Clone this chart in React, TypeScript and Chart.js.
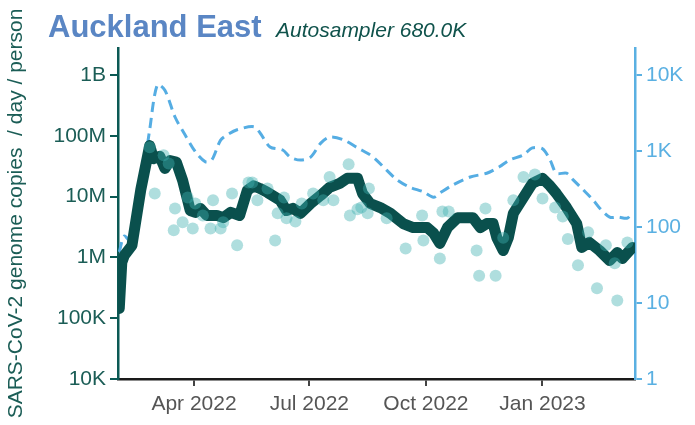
import React, { useEffect, useRef } from 'react';
import { Chart, registerables } from 'chart.js';

Chart.register(...registerables);

// ---- data (days counted from START_DATE) ----
const START_DATE = '2022-02-01';

const trendDays = [0, 2, 4, 10, 17, 24, 27, 32, 36, 40, 45, 50, 54, 56, 60, 64, 69, 77, 82, 88, 95, 101, 106, 111, 117, 127, 132, 137, 143, 151, 159, 166, 174, 180, 188, 192, 198, 206, 214, 224, 232, 243, 248, 253, 259, 267, 274, 279, 285, 290, 295, 298, 303, 307, 311, 319, 326, 334, 340, 345, 353, 361, 365, 371, 379, 387, 393, 397, 405];
const trendCopies = [1.45e5, 8.3e5, 1.08e6, 1.57e6, 1.3e7, 6.9e7, 4.2e7, 4.6e7, 2.9e7, 3.9e7, 3.7e7, 1.85e7, 8.7e6, 5.9e6, 5.5e6, 6.4e6, 4.9e6, 4.9e6, 4.5e6, 5.5e6, 4.9e6, 1.26e7, 1.5e7, 1.36e7, 1.17e7, 8.7e6, 5.9e6, 6.4e6, 5.3e6, 7.7e6, 1.05e7, 1.42e7, 1.65e7, 2.0e7, 2.0e7, 1.12e7, 7.7e6, 6.6e6, 5.3e6, 3.6e6, 3.1e6, 3.1e6, 2.5e6, 1.7e6, 3.1e6, 4.5e6, 4.5e6, 4.5e6, 3.1e6, 3.6e6, 3.6e6, 2.1e6, 1.3e6, 2.1e6, 5.3e6, 9.7e6, 1.65e7, 2.0e7, 1.5e7, 1.12e7, 6.6e6, 3.6e6, 1.46e6, 1.76e6, 1.3e6, 8.9e5, 1.2e6, 9.6e5, 1.46e6];

const sampleDays = [24, 28, 35, 39, 43, 44, 50, 54, 58, 60, 66, 72, 74, 80, 82, 89, 93, 102, 105, 109, 117, 123, 125, 130, 132, 139, 144, 153, 161, 166, 169, 181, 182, 188, 191, 196, 197, 211, 226, 239, 240, 253, 255, 260, 282, 284, 289, 297, 303, 311, 319, 328, 334, 344, 350, 354, 362, 370, 377, 384, 391, 393, 401];
const sampleCopies = [6.5e7, 1.12e7, 4.8e7, 3.5e7, 2.8e6, 6.4e6, 3.8e6, 9.7e6, 3.0e6, 7.7e6, 4.9e6, 3.0e6, 8.7e6, 3.0e6, 3.8e6, 1.12e7, 1.58e6, 1.7e7, 1.7e7, 8.7e6, 1.36e7, 1.9e6, 5.3e6, 9.7e6, 4.4e6, 3.9e6, 7.7e6, 1.12e7, 8.7e6, 2.1e7, 8.7e6, 3.4e7, 4.9e6, 6.2e6, 6.6e6, 5.3e6, 1.36e7, 4.4e6, 1.4e6, 4.9e6, 1.9e6, 9.6e5, 5.7e6, 5.7e6, 1.3e6, 5.0e5, 6.4e6, 5.0e5, 2.1e6, 8.7e6, 2.1e7, 2.3e7, 9.3e6, 6.6e6, 4.7e6, 2.0e6, 7.4e5, 2.6e6, 3.1e5, 1.58e6, 8.0e5, 1.95e5, 1.76e6];

const caseDays = [0, 4, 10, 17, 24, 30, 36, 44, 52, 60, 68, 73, 80, 86, 93, 106, 111, 119, 129, 135, 143, 151, 159, 166, 177, 188, 198, 203, 211, 219, 229, 240, 248, 253, 263, 277, 290, 300, 308, 319, 326, 334, 340, 345, 353, 358, 366, 374, 379, 387, 394, 401, 405];
const caseValues = [47, 76, 62, 305, 1900, 7400, 6300, 2800, 1620, 980, 720, 760, 1390, 1660, 1900, 2090, 1740, 1130, 1030, 830, 760, 830, 1270, 1520, 1400, 1100, 890, 760, 560, 420, 335, 290, 246, 280, 355, 455, 510, 620, 760, 890, 1100, 1070, 760, 510, 510, 420, 310, 226, 178, 135, 135, 131, 158];

const xTickDates = ['2022-04-01', '2022-07-01', '2022-10-01', '2023-01-01'];
const xTickLabels = ['Apr 2022', 'Jul 2022', 'Oct 2022', 'Jan 2023'];

const leftTickValues = [1e4, 1e5, 1e6, 1e7, 1e8, 1e9];
const leftTickLabels = ['10K', '100K', '1M', '10M', '100M', '1B'];
const rightTickValues = [1, 10, 100, 1000, 10000];
const rightTickLabels = ['1', '10', '100', '1K', '10K'];

const TITLE = 'Auckland East';
const SUBTITLE = 'Autosampler 680.0K';
const Y_TITLE = 'SARS-CoV-2 genome copies  / day / person';

const FONT = '"Liberation Sans", Arial, sans-serif';

const dayOf = (iso: string) => (Date.parse(iso) - Date.parse(START_DATE)) / 86400000;

const titlePlugin = {
  id: 'titles',
  afterDraw(chart: any) {
    const ctx = chart.ctx;
    ctx.save();
    ctx.textBaseline = 'alphabetic';
    ctx.textAlign = 'left';
    ctx.font = `bold 31px ${FONT}`;
    ctx.fillStyle = '#5a86c4';
    ctx.fillText(TITLE, 48, 37);
    ctx.font = `italic 21px ${FONT}`;
    ctx.fillStyle = '#0f524b';
    ctx.fillText(SUBTITLE, 276, 37);
    ctx.restore();
  },
};

export default function App() {
  const ref = useRef<HTMLCanvasElement>(null);

  useEffect(() => {
    if (!ref.current) return;
    const trend = trendDays.map((d, i) => ({ x: d, y: trendCopies[i] }));
    const samples = sampleDays.map((d, i) => ({ x: d, y: sampleCopies[i] }));
    const cases = caseDays.map((d, i) => ({ x: d, y: caseValues[i] }));
    const xTicks = xTickDates.map(dayOf);

    const chart = new Chart(ref.current, {
      type: 'line',
      data: {
        datasets: [
          {
            type: 'scatter',
            data: samples,
            yAxisID: 'y',
            pointRadius: 6,
            pointBackgroundColor: 'rgba(64,176,176,0.42)',
            pointBorderWidth: 0,
            showLine: false,
            order: 0,
          } as any,
          {
            data: trend,
            yAxisID: 'y',
            borderColor: '#0a504d',
            borderWidth: 11,
            borderCapStyle: 'round',
            borderJoinStyle: 'round',
            pointRadius: 0,
            tension: 0,
            order: 1,
          },
          {
            data: cases,
            yAxisID: 'y2',
            borderColor: '#55ade3',
            borderWidth: 3,
            borderDash: [10, 6],
            pointRadius: 0,
            tension: 0.3,
            order: 2,
          },
        ],
      },
      options: {
        responsive: false,
        maintainAspectRatio: false,
        animation: false,
        layout: { padding: { top: 48, left: 0, right: 0, bottom: 0 } },
        plugins: { legend: { display: false }, tooltip: { enabled: false }, title: { display: false } },
        scales: {
          x: {
            type: 'linear',
            min: -1,
            max: 407,
            afterBuildTicks: (s: any) => { s.ticks = xTicks.map((v) => ({ value: v })); },
            afterFit: (s: any) => { s.height = 46; },
            ticks: {
              autoSkip: false,
              maxRotation: 0,
              padding: 6,
              color: '#555555',
              font: { family: FONT, size: 21 },
              callback: (v: any) => xTickLabels[xTicks.indexOf(Number(v))] ?? '',
            },
            grid: { drawOnChartArea: false, drawTicks: true, tickLength: 7, color: '#444444', lineWidth: 2 },
            border: { display: true, color: '#1a1a1a', width: 2.5 },
          },
          y: {
            type: 'logarithmic',
            position: 'left',
            min: 1e4,
            max: 2.78e9,
            afterBuildTicks: (s: any) => { s.ticks = leftTickValues.map((v) => ({ value: v })); },
            afterFit: (s: any) => { s.width = 118; },
            ticks: {
              autoSkip: false,
              padding: 4,
              color: '#1b5d56',
              font: { family: FONT, size: 21 },
              callback: (v: any) => leftTickLabels[leftTickValues.indexOf(Number(v))] ?? '',
            },
            grid: { drawOnChartArea: false, drawTicks: true, tickLength: 8, color: '#0b5954', lineWidth: 2 },
            border: { display: true, color: '#0b5954', width: 2.5 },
            title: {
              display: true,
              text: Y_TITLE,
              color: '#1b5d56',
              font: { family: FONT, size: 21 },
              padding: { top: 4, bottom: 0 },
            },
          },
          y2: {
            type: 'logarithmic',
            position: 'right',
            min: 1,
            max: 22650,
            afterBuildTicks: (s: any) => { s.ticks = rightTickValues.map((v) => ({ value: v })); },
            afterFit: (s: any) => { s.width = 60; },
            ticks: {
              autoSkip: false,
              padding: 4,
              color: '#5ab0e2',
              font: { family: FONT, size: 21 },
              callback: (v: any) => rightTickLabels[rightTickValues.indexOf(Number(v))] ?? '',
            },
            grid: { drawOnChartArea: false, drawTicks: true, tickLength: 7, color: '#5ab0e2', lineWidth: 2 },
            border: { display: true, color: '#5ab0e2', width: 2.5 },
          },
        },
      },
      plugins: [titlePlugin],
    } as any);
    return () => chart.destroy();
  }, []);

  return (
    <div style={{ position: 'absolute', left: 0, top: 0, width: 695, height: 425, background: '#ffffff' }}>
      <canvas ref={ref} width={695} height={425} style={{ width: 695, height: 425 }} />
    </div>
  );
}
